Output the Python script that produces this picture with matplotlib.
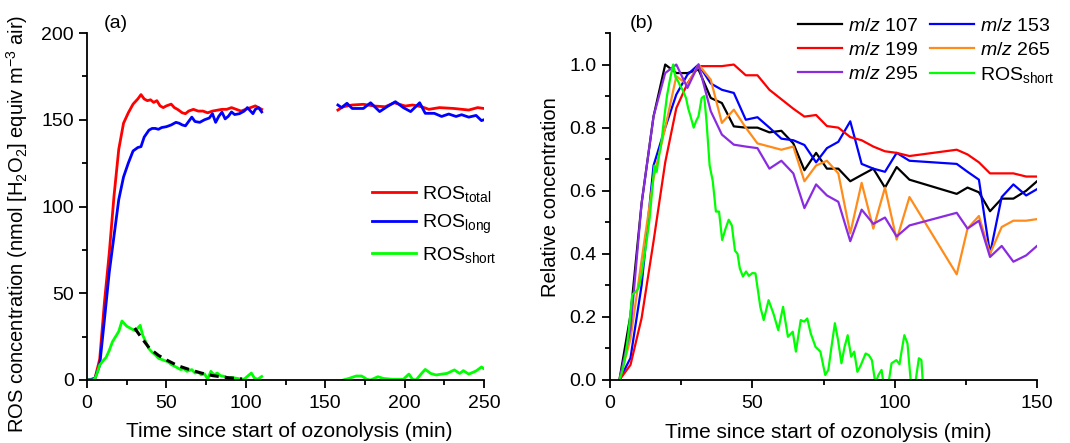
import numpy as np
import matplotlib
matplotlib.use("Agg")
import matplotlib.pyplot as plt
from matplotlib.ticker import MultipleLocator

plt.rcParams["font.family"] = ["Liberation Sans", "DejaVu Sans"]
plt.rcParams["mathtext.fontset"] = "custom"
plt.rcParams["mathtext.rm"] = "Liberation Sans"
plt.rcParams["mathtext.it"] = "Liberation Sans:italic"
plt.rcParams["font.size"] = 14

# ---- panel (a): ROS concentration (nmol m-3) ----
# first measurement period
t_total_1 = [0, 3, 5, 8, 11, 14, 17, 20, 23, 26, 29, 32, 34, 36, 38, 40, 42, 44, 46, 48, 50,
             53, 55, 57, 60, 62, 64, 67, 70, 73, 76, 79, 82, 85, 88, 91, 94, 97, 100, 103,
             106, 108, 110]
ros_total_1 = [0, 0.5, 1, 12, 45, 73, 106, 133, 148, 154, 159, 162, 164.5, 162, 161, 161.5,
               160, 161, 158, 157, 158, 159, 157, 156, 154, 153.5, 155, 156, 155, 155, 154,
               155, 155.5, 156, 156, 157, 156, 155, 156, 157, 158, 157, 156]
t_long_1 = [0, 3, 5, 8, 11, 14, 17, 20, 23, 26, 29, 32, 34, 36, 39, 41, 43, 45, 47, 50, 53,
            56, 58, 60, 62, 64, 66, 68, 71, 74, 77, 79, 81, 83, 85, 87, 89, 91, 93, 96, 99,
            101, 103, 104.5, 106, 108, 110]
ros_long_1 = [0, 0.3, 1, 8.6, 35, 62, 83, 104, 117, 125, 132, 134, 134.5, 140, 144, 145, 145,
              144.5, 145.5, 146, 147, 148.5, 148, 147, 146.5, 149, 151.5, 149, 148.5, 150, 151,
              153.5, 148.5, 152, 154.4, 150.5, 152, 154.5, 153, 153.5, 155, 157, 155, 153.5,
              156, 157, 154.5]
t_short_1 = [0, 4, 5, 6, 8, 10, 12, 14, 16, 18, 20, 22, 23, 25, 27, 30, 32, 33.5, 35, 37, 39,
             41, 43, 45, 48, 51, 53, 55, 57, 59, 61, 63, 66, 68, 70, 72, 74, 76, 78, 80, 82,
             84, 87, 89, 91, 94, 97, 99, 101.5, 103.5, 105.5, 107.5, 110]
ros_short_1 = [0, 0, 1, 3, 8.6, 11, 13, 17, 22, 25, 28, 34, 33, 31, 30, 28.5, 30, 31.5, 26,
               22, 18, 16, 14.5, 12.5, 11.5, 10.5, 9, 8, 7, 6, 6.5, 5, 6, 4, 4.5, 3, 3.5,
               0.5, 5, 3, 4, 2.5, 2, 1, 1.5, 1, 0.5, 0.5, 2.5, 4, 1, 0.5, 2]
# exponential decay fit of ROS_short
t_fit = [30, 35, 39.4, 45, 50.6, 57, 64.9, 72, 79.2, 88, 97.6]
ros_fit = [29.9, 23.5, 18.2, 14.2, 11.3, 8.3, 5.9, 4.0, 2.5, 1.4, 0.6]

# second measurement period
t_total_2 = [158, 161.4, 167, 174, 181, 187.8, 193.5, 200.4, 205, 210.7, 215.3, 222, 231,
             240.4, 246, 250]
ros_total_2 = [155.6, 157.5, 158.5, 158.9, 157.9, 157.5, 159.8, 157.9, 158.5, 157.5, 156,
               157, 156.5, 155.6, 157, 156.5]
t_long_2 = [158, 160.3, 163.7, 167, 174, 178.6, 184.3, 188.9, 194.2, 199.2, 203.8, 209.5,
            213, 218.7, 223.3, 227.8, 232.4, 235.9, 240.4, 245, 248.4, 250]
ros_long_2 = [158.5, 157, 159.5, 156.5, 156.5, 159.8, 154.7, 157.5, 160.4, 157, 154.7, 159.8,
              153.7, 153.7, 151.9, 153.3, 151.9, 152.9, 151.5, 152.5, 149.5, 150]
t_short_2 = [161.4, 164.9, 169.5, 172.9, 176.3, 178.6, 183.2, 186.6, 192.4, 199.2, 202.7,
             205, 207.2, 210.7, 213, 216.4, 219.8, 223.3, 226.7, 231.3, 234.7, 237, 240.4,
             245, 248.4, 250]
ros_short_2 = [0, 0.9, 2.3, 2.3, 0.4, 0, 1.9, 0.9, 0.4, 0.4, 3.4, 0.4, 0, 3.8, 6.1, 3.8, 2.9,
               3.4, 3.8, 5.8, 3.8, 5.4, 3.4, 5.2, 7.5, 6.5]

# ---- panel (b): relative concentrations ----
t_ms = [3.3, 7.2, 11.1, 15.3, 19.4, 23.3, 27.2, 31.1, 35.4, 39.3, 43.5, 47.7, 51.8, 56, 60.2,
        64.4, 68.3, 72.4, 76.2, 80.2, 84.4, 88.4, 92.5, 96.6, 100.7, 105.2, 121.8, 125.6,
        129.6, 133.5, 137.6, 141.7, 146.2, 150]
mz107 = [0, 0.206, 0.56, 0.836, 1.0, 0.973, 0.973, 0.984, 0.894, 0.878, 0.804, 0.80, 0.80,
         0.785, 0.79, 0.75, 0.665, 0.72, 0.67, 0.67, 0.63, 0.65, 0.67, 0.61, 0.675, 0.635,
         0.59, 0.61, 0.595, 0.535, 0.575, 0.575, 0.60, 0.63]
mz153 = [0, 0.07, 0.30, 0.68, 0.80, 0.905, 0.968, 1.0, 0.94, 0.92, 0.91, 0.825, 0.833, 0.80,
         0.765, 0.76, 0.745, 0.69, 0.735, 0.755, 0.82, 0.685, 0.67, 0.66, 0.72, 0.695, 0.685,
         0.66, 0.635, 0.40, 0.58, 0.62, 0.585, 0.605]
mz199 = [0, 0.048, 0.196, 0.44, 0.69, 0.862, 0.94, 0.995, 0.995, 0.995, 1.0, 0.966, 0.966,
         0.92, 0.89, 0.86, 0.835, 0.84, 0.805, 0.80, 0.77, 0.76, 0.74, 0.725, 0.72, 0.71,
         0.73, 0.715, 0.69, 0.655, 0.655, 0.655, 0.645, 0.645]
mz265 = [0, 0.13, 0.38, 0.64, 0.80, 0.963, 0.936, 1.0, 0.952, 0.815, 0.857, 0.80, 0.75, 0.74,
         0.73, 0.74, 0.63, 0.68, 0.695, 0.655, 0.465, 0.625, 0.48, 0.61, 0.445, 0.58, 0.335,
         0.48, 0.52, 0.40, 0.485, 0.505, 0.505, 0.51]
mz295 = [0, 0.16, 0.56, 0.836, 0.973, 1.0, 0.926, 1.0, 0.852, 0.778, 0.746, 0.74, 0.735,
         0.67, 0.695, 0.655, 0.545, 0.62, 0.585, 0.565, 0.44, 0.54, 0.495, 0.515, 0.455,
         0.49, 0.53, 0.48, 0.505, 0.39, 0.425, 0.375, 0.395, 0.425]
t_short_rel = [3.3, 4.4, 5.5, 6.5, 7.8, 9, 10, 11, 12.2, 13, 13.9, 14.8, 15.6, 16.4, 17.2, 18,
               18.9, 20, 21, 22.2, 23, 23.9, 24.8, 25.5, 26.7, 27.5, 28.3, 29.4, 30.2, 31.1,
               32.2, 33.1, 33.9, 35, 36.1, 37.2, 38.3, 39.4, 40.6, 41.7, 42.8, 43.9, 44.8,
               45.6, 46.7, 47.8, 48.8, 50, 51.1, 52.8, 54, 55.7, 57.4, 59.1, 60.8, 62.5, 64.2,
               65.3, 67, 68.2, 69.3, 70.5, 72.2, 73.9, 75.6, 76.7, 77.8, 79, 80.1, 81.3, 82.4,
               83.5, 84.7, 85.8, 86.9, 88.1, 89.8, 90.9, 92, 93.2, 94.3, 95.4, 96.2, 97.5,
               98.9, 100.6, 101.7, 102.3, 103.4, 104.5, 105.7, 106.8, 107.4, 108.5, 109.4,
               109.9]
ros_short_rel = [0, 0.03, 0.08, 0.15, 0.27, 0.28, 0.29, 0.33, 0.40, 0.45, 0.51, 0.60, 0.68,
                 0.66, 0.71, 0.75, 0.82, 0.90, 0.95, 1.0, 0.96, 0.947, 0.93, 0.92, 0.894,
                 0.86, 0.836, 0.80, 0.82, 0.836, 0.894, 0.90, 0.82, 0.68, 0.63, 0.534, 0.534,
                 0.444, 0.48, 0.508, 0.49, 0.41, 0.40, 0.354, 0.328, 0.344, 0.33, 0.339,
                 0.338, 0.232, 0.19, 0.253, 0.211, 0.158, 0.232, 0.137, 0.153, 0.09, 0.19,
                 0.185, 0.195, 0.148, 0.105, 0.09, 0.016, 0.032, 0.105, 0.18, 0.127, 0.053,
                 0.105, 0.142, 0.074, 0.09, 0.026, 0.047, 0.084, 0.079, 0.063, -0.01, 0.016,
                 0.032, -0.02, -0.03, 0.053, 0.063, 0.05, 0.084, 0.142, 0.116, -0.01, -0.03,
                 0.0, 0.069, 0.063, -0.01]

RED = "#ff0000"
BLUE = "#0000ff"
GREEN = "#00ff00"
ORANGE = "#ff8c1a"
PURPLE = "#8a2be2"


def style_axes(ax):
    for side in ("top", "right"):
        ax.spines[side].set_visible(False)
    for side in ("left", "bottom"):
        ax.spines[side].set_linewidth(1.3)
    ax.tick_params(which="major", direction="out", length=6, width=1.3, labelsize=14)
    ax.tick_params(axis="x", which="major", pad=5)
    ax.tick_params(which="minor", direction="out", length=3.5, width=1.3)


fig = plt.figure(figsize=(10.7, 4.43), dpi=100)

# (a)
ax1 = fig.add_axes([87 / 1070, 1 - 380 / 443, 397 / 1070, 347 / 443])
lw_a = 2.0
ax1.plot(t_total_1, ros_total_1, color=RED, lw=lw_a, label=r"ROS$_{\mathrm{total}}$")
ax1.plot(t_long_1, ros_long_1, color=BLUE, lw=lw_a, label=r"ROS$_{\mathrm{long}}$")
ax1.plot(t_short_1, ros_short_1, color=GREEN, lw=lw_a, label=r"ROS$_{\mathrm{short}}$")
ax1.plot(t_total_2, ros_total_2, color=RED, lw=lw_a)
ax1.plot(t_long_2, ros_long_2, color=BLUE, lw=lw_a)
ax1.plot(t_short_2, ros_short_2, color=GREEN, lw=lw_a)
ax1.plot(t_fit, ros_fit, color="black", lw=2.2, ls=(0, (3, 2)))
ax1.set_xlim(0, 250)
ax1.set_ylim(0, 200)
ax1.xaxis.set_major_locator(MultipleLocator(50))
ax1.xaxis.set_minor_locator(MultipleLocator(25))
ax1.yaxis.set_major_locator(MultipleLocator(50))
ax1.yaxis.set_minor_locator(MultipleLocator(25))
style_axes(ax1)
ax1.set_xlabel("Time since start of ozonolysis (min)", fontsize=15)
ax1.set_ylabel(r"ROS concentration (nmol [H$_2$O$_2$] equiv m$^{-3}$ air)", fontsize=14.5)
ax1.xaxis.set_label_coords(0.51, -0.12)
ax1.yaxis.set_label_coords(-0.1436, 0.45)
ax1.legend(loc="upper left", bbox_to_anchor=(372 / 1070, 1 - 184 / 443),
           bbox_transform=fig.transFigure, frameon=False, fontsize=14,
           handlelength=2.27, handletextpad=0.3, labelspacing=0.45,
           borderpad=0, borderaxespad=0)
fig.text(116 / 1070, 1 - 23 / 443, "(a)", ha="center", va="center", fontsize=14)

# (b)
ax2 = fig.add_axes([610 / 1070, 1 - 380 / 443, 427 / 1070, 347 / 443])
lw_b = 1.6
l107, = ax2.plot(t_ms, mz107, color="black", lw=lw_b, label=r"$m/z$ 107")
l153, = ax2.plot(t_ms, mz153, color=BLUE, lw=lw_b, label=r"$m/z$ 153")
l199, = ax2.plot(t_ms, mz199, color=RED, lw=lw_b, label=r"$m/z$ 199")
l265, = ax2.plot(t_ms, mz265, color=ORANGE, lw=lw_b, label=r"$m/z$ 265")
l295, = ax2.plot(t_ms, mz295, color=PURPLE, lw=lw_b, label=r"$m/z$ 295")
lros, = ax2.plot(t_short_rel, ros_short_rel, color=GREEN, lw=lw_b,
                 label=r"ROS$_{\mathrm{short}}$")
ax2.set_xlim(0, 150)
ax2.set_ylim(0, 1.1)
ax2.xaxis.set_major_locator(MultipleLocator(50))
ax2.xaxis.set_minor_locator(MultipleLocator(25))
ax2.yaxis.set_major_locator(MultipleLocator(0.2))
ax2.yaxis.set_minor_locator(MultipleLocator(0.1))
ax2.yaxis.set_major_formatter(plt.FormatStrFormatter("%.1f"))
style_axes(ax2)
ax2.set_xlabel("Time since start of ozonolysis (min)", fontsize=15)
ax2.set_ylabel("Relative concentration", fontsize=14.5)
ax2.xaxis.set_label_coords(0.51, -0.125)
ax2.yaxis.set_label_coords(-0.117, 0.527)
ax2.legend(handles=[l107, l199, l295, l153, l265, lros], ncol=2,
           loc="upper left", bbox_to_anchor=(798 / 1070, 1 - 17 / 443),
           bbox_transform=fig.transFigure, frameon=False, fontsize=14,
           handlelength=2.27, handletextpad=0.3, labelspacing=0.33,
           columnspacing=0.6, borderpad=0, borderaxespad=0)
fig.text(642 / 1070, 1 - 23 / 443, "(b)", ha="center", va="center", fontsize=14)

fig.savefig("out.png", dpi=100)
